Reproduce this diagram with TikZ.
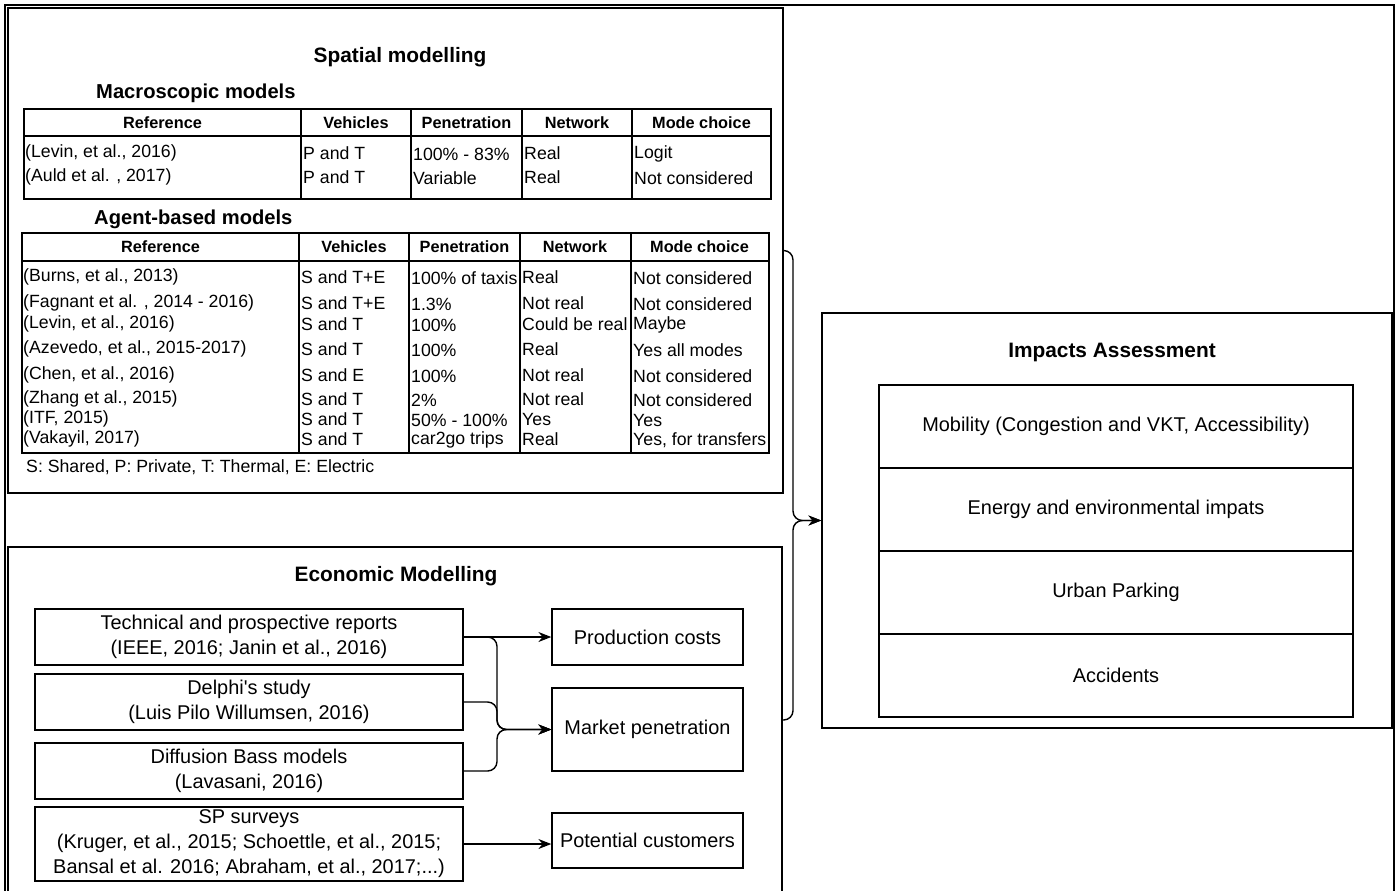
\documentclass[tikz,border=0pt]{standalone}
\usepackage{fontspec}
\setmainfont{Liberation Sans}
\usetikzlibrary{arrows.meta,fit}

\tikzset{
	panel/.style={draw, line width=1.2pt, inner sep=0pt},
	grid/.style={line width=1.2pt},
	boxsize/.style 2 args={minimum width=#1*0.03cm, minimum height=#2*0.03cm},
	tabcell/.style={anchor=west, inner sep=0pt, font=\fontsize{15.1}{18}\selectfont},
	colhead/.style={inner sep=0pt, font=\bfseries\fontsize{13.9}{16}\selectfont},
	heading/.style={inner sep=0pt, font=\bfseries\fontsize{17.8}{21}\selectfont},
	subheading/.style={anchor=west, inner sep=0pt, font=\bfseries\fontsize{17.2}{21}\selectfont},
	itembox/.style={panel, align=center, font=\fontsize{17}{21.3}\selectfont},
	conn/.style={line width=1.2pt, rounded corners=8pt, -{Stealth[length=11pt, width=8.5pt]}},
}

\begin{document}
\begin{tikzpicture}[x=0.03cm, y=-0.03cm]

			\useasboundingbox (0,0) rectangle (1398,890);

			\coordinate (jE) at (497, 0);
			\coordinate (jI) at (793, 0);

			\draw[grid] (5,5) rectangle (1394,893);

			\node[panel, fit={(8,8) (783,493)}] (spatial) {};
			\node[panel, fit={(8,547) (782,893)}] (econ) {};
			\node[panel, fit={(822,313) (1392,728)}] (imp) {};

			\node[heading] (spatialtitle) at (400,57) {Spatial modelling};
			\node[subheading] (macrotitle) at (96,93) {Macroscopic models};
			\node[subheading] (agenttitle) at (94,219) {Agent-based models};
			\node[heading] (econtitle) at (396,576) {Economic Modelling};
			\node[heading] (imptitle) at (1112,352) {Impacts Assessment};

			\draw[grid] (24,109) rectangle (771,199);
			\draw[grid] (24,136) -- (771,136);
			\foreach \x in {301, 411, 522, 632}
			{
					\draw[grid] (\x,109) -- (\x,199);
			}

			\draw[grid] (22,233) rectangle (769,453);
			\draw[grid] (22,261) -- (769,261);
			\foreach \x in {299, 409, 520, 631}
			{
					\draw[grid] (\x,233) -- (\x,453);
			}

			\foreach \a/\b/\t [count=\i] in {24/301/Reference, 301/411/Vehicles, 411/522/Penetration, 522/632/Network, 632/771/Mode choice}
			{
					\node[colhead] (ma-h\i) at ({(\a+\b)/2},122.5) {\t};
					\node[colhead] (ag-h\i) at ({(\a+\b)/2-2},247) {\t};
			}

			\foreach \y/\r/\v/\p/\n/\m [count=\i] in {
				153/{(Levin, et al., 2016)}/{P and T}/{100\% - 83\%}/Real/Logit,
				177/{(Auld et al. , 2017)}/{P and T}/Variable/Real/{Not considered}}
			{
					\node[tabcell] (ma-r\i) at (25,\y) {\r};
					\node[tabcell] (ma-v\i) at (303,\y) {\v};
					\node[tabcell] (ma-p\i) at (413,\y+1) {\p};
					\node[tabcell] (ma-n\i) at (524,\y) {\n};
					\node[tabcell] (ma-m\i) at (634,\y+1) {\m};
			}

			\foreach \y/\r/\v/\p/\n/\m [count=\i] in {
				277/{(Burns, et al., 2013)}/{S and T+E}/{100\% of taxis}/Real/{Not considered},
				303/{(Fagnant et al. , 2014 - 2016)}/{S and T+E}/{1.3\%}/{Not real}/{Not considered},
				324/{(Levin, et al., 2016)}/{S and T}/{100\%}/{Could be real}/Maybe,
				349/{(Azevedo, et al., 2015-2017)}/{S and T}/{100\%}/Real/{Yes all modes},
				375/{(Chen, et al., 2016)}/{S and E}/{100\%}/{Not real}/{Not considered},
				399/{(Zhang et al., 2015)}/{S and T}/{2\%}/{Not real}/{Not considered},
				419/{(ITF, 2015)}/{S and T}/{50\% - 100\%}/Yes/Yes,
				439/{(Vakayil, 2017)}/{S and T}/{car2go trips}/Real/{Yes, for transfers}}
			{
					\node[tabcell] (ag-r\i) at (23,\y) {\r};
					\node[tabcell] (ag-v\i) at (301,\y) {\v};
					\node[tabcell] (ag-p\i) at (411,\y+1) {\p};
					\node[tabcell] (ag-n\i) at (522,\y) {\n};
					\node[tabcell] (ag-m\i) at (633,\y+1) {\m};
			}

			\node[tabcell] (note) at (26,467) {S: Shared, P: Private, T: Thermal, E: Electric};

			\node[itembox, boxsize={428}{56}] (tech) at (249,637) {Technical and prospective reports\\(IEEE, 2016; Janin et al., 2016)};
			\node[itembox, boxsize={428}{56}] (delphi) at (249,702) {Delphi\textquotesingle s study\\(Luis Pilo Willumsen, 2016)};
			\node[itembox, boxsize={428}{56}] (bass) at (249,771) {Diffusion Bass models\\(Lavasani, 2016)};
			\node[itembox, boxsize={428}{74}] (sp) at (249,844) {SP surveys\\(Kruger, et al., 2015; Schoettle, et al., 2015;\\Bansal et al. 2016; Abraham, et al., 2017;...)};

			\node[itembox, boxsize={191}{56}] (prod) at (647.5,637) {Production costs};
			\node[itembox, boxsize={191}{83}] (mkt) at (647.5,729.5) {Market penetration};
			\node[itembox, boxsize={191}{55}] (pot) at (647.5,840.5) {Potential customers};

			\node[itembox, boxsize={474}{83}] (mob) at (1116,426.5) {Mobility (Congestion and VKT, Accessibility)};
			\node[itembox, boxsize={474}{83}] (ener) at (1116,509.5) {Energy and environmental impats};
			\node[itembox, boxsize={474}{83}] (park) at (1116,592.5) {Urban Parking};
			\node[itembox, boxsize={474}{83}] (acc) at (1116,675.5) {Accidents};

			\draw[conn] (tech.east) -- (prod.west);
			\draw[conn] (tech.east) -- (tech.east -| jE) |- (mkt.west);
			\draw[conn] (delphi.east) -- (delphi.east -| jE) |- (mkt.west);
			\draw[conn] (bass.east) -- (bass.east -| jE) |- (mkt.west);
			\draw[conn] (sp.east) -- (sp.east -| pot.west);

			\draw[conn] (spatial.east) -- (spatial.east -| jI) |- (imp.west);
			\draw[conn] (econ.east) -- (econ.east -| jI) |- (imp.west);

		\end{tikzpicture}
\end{document}
